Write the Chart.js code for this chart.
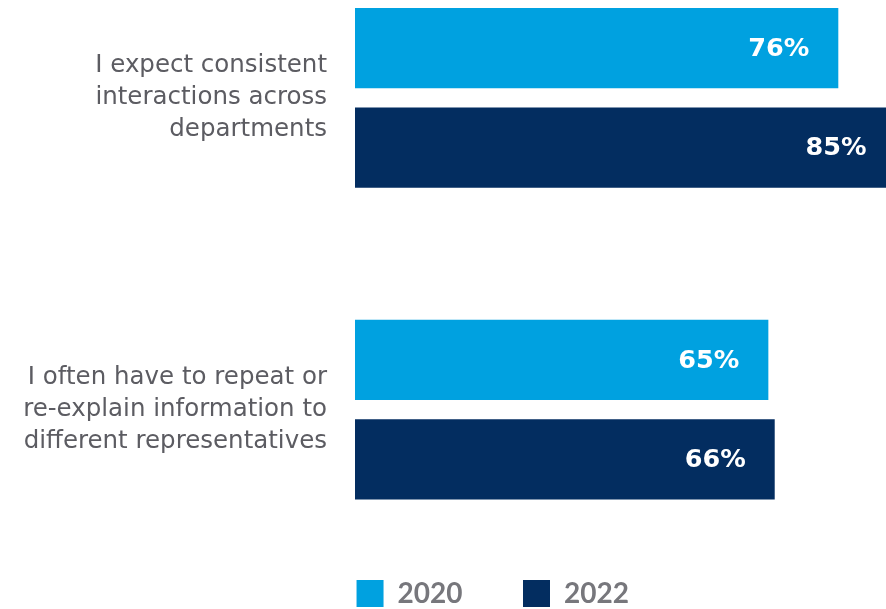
<!DOCTYPE html>
<html>
<head>
<meta charset="utf-8">
<script src="https://cdn.jsdelivr.net/npm/chart.js@4/dist/chart.umd.min.js"></script>
<style>
  html, body { margin: 0; padding: 0; background: #ffffff; overflow: hidden; width: 886px; height: 609px; }
  #wrap { position: absolute; left: 0; top: -58px; width: 886px; height: 722px; }
</style>
</head>
<body>
<div id="wrap"><canvas id="c"></canvas></div>
<script>
const categories = [
  ["I expect consistent", "interactions across", "departments"],
  ["I often have to repeat or", "re-explain information to", "different representatives"]
];
const seriesNames = ["2020", "2022"];
const values2020 = [76, 65];
const values2022 = [85, 66];
const colors = ["#00A1E0", "#032D60"];

const valueLabels = {
  id: 'valueLabels',
  afterLayout(chart) {
    // place the legend row under the bars region like the reference
    if (chart.legend) {
      chart.legend.left = 99.5;
      chart.legend.top = 577;
    }
  },
  afterDatasetsDraw(chart) {
    const ctx = chart.ctx;
    const xs = chart.scales.x;
    ctx.save();
    ctx.fillStyle = '#ffffff';
    ctx.font = 'bold 25.5px "DejaVu Sans"';
    ctx.textAlign = 'right';
    ctx.textBaseline = 'middle';
    chart.data.datasets.forEach((ds, di) => {
      const meta = chart.getDatasetMeta(di);
      meta.data.forEach((bar, i) => {
        const v = ds.data[i];
        const xEnd = xs.getPixelForValue(v);
        ctx.fillText(v + '%', xEnd - 29, bar.y + 1);
      });
    });
    ctx.restore();
  }
};

new Chart(document.getElementById('c'), {
  type: 'bar',
  data: {
    labels: categories,
    datasets: [
      { label: seriesNames[0], data: values2020, backgroundColor: colors[0], borderWidth: 0 },
      { label: seriesNames[1], data: values2022, backgroundColor: colors[1], borderWidth: 0 }
    ]
  },
  options: {
    indexAxis: 'y',
    responsive: true,
    maintainAspectRatio: false,
    animation: false,
    categoryPercentage: 0.637,
    barPercentage: 0.808,
    layout: { padding: 0 },
    scales: {
      x: { display: false, min: 0, max: 83.5 },
      y: {
        grid: { display: false, drawTicks: false },
        border: { display: false },
        ticks: {
          color: '#5c5c62',
          font: { family: 'DejaVu Sans', size: 24.5, lineHeight: 1.306 },
          padding: 28
        },
        afterFit(scale) {
          scale.width = 355;
          scale.paddingTop = 0;
          scale.paddingBottom = 0;
        }
      }
    },
    plugins: {
      tooltip: { enabled: false },
      legend: {
        position: 'bottom',
        labels: {
          boxWidth: 27,
          boxHeight: 27,
          padding: 60.5,
          color: '#77777c',
          font: { family: 'Lato', size: 28, weight: 'bold' }
        }
      }
    }
  },
  plugins: [valueLabels]
});
</script>
</body>
</html>
